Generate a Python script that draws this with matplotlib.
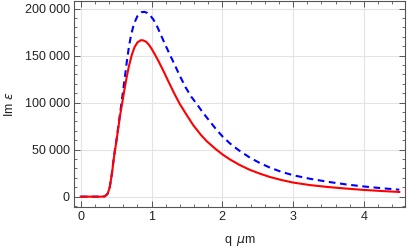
import matplotlib
matplotlib.use("Agg")
import matplotlib.pyplot as plt
from matplotlib.ticker import MultipleLocator, FuncFormatter

plt.rcParams["font.family"] = ["Liberation Sans", "DejaVu Sans"]
plt.rcParams["mathtext.fontset"] = "dejavusans"

# values
q_red = [0, 0.1, 0.2, 0.3, 0.34, 0.38, 0.41, 0.44, 0.47, 0.51, 0.555, 0.58,
         0.60, 0.62, 0.65, 0.68, 0.72, 0.76, 0.80, 0.85, 0.88, 0.92, 0.96,
         1.00, 1.05, 1.10, 1.16, 1.22, 1.32, 1.40, 1.50, 1.59, 1.70, 1.78,
         1.90, 2.01, 2.11, 2.25, 2.39, 2.53, 2.67, 2.83, 3.0, 3.24, 3.5,
         3.75, 3.99, 4.25, 4.5]
im_red = [0, 0, 0, 0, 300, 3000, 10000, 24000, 42000, 62000, 86000, 97000,
          106000, 115000, 127500, 138500, 150500, 159000, 164000, 166500,
          166300, 165000, 162000, 157500, 151000, 144000, 135000, 125500,
          110000, 98500, 86500, 76000, 65500, 59000, 51000, 44500, 39500,
          33500, 28500, 24500, 21000, 17800, 15000, 12300, 10200, 8600,
          7200, 6000, 5000]

q_blue = [0, 0.1, 0.2, 0.3, 0.34, 0.38, 0.41, 0.44, 0.47, 0.51, 0.555, 0.58,
          0.60, 0.62, 0.65, 0.68, 0.71, 0.75, 0.80, 0.86, 0.90, 0.94, 0.98,
          1.03, 1.08, 1.13, 1.18, 1.25, 1.32, 1.40, 1.48, 1.56, 1.64, 1.73,
          1.83, 1.92, 2.01, 2.11, 2.23, 2.39, 2.53, 2.67, 2.83, 3.0, 3.24,
          3.5, 3.75, 3.99, 4.25, 4.5]
im_blue = [0, 0, 0, 0, 300, 3000, 10000, 24500, 43000, 63000, 88000, 102000,
           113500, 125000, 143000, 159000, 171500, 183500, 192000, 196300,
           196600, 195500, 193000, 188000, 181000, 172500, 164000, 152500,
           141500, 128500, 116500, 106500, 98500, 89000, 79500, 71000,
           63500, 56500, 49500, 41500, 35800, 31000, 26500, 22800, 19000,
           15700, 13000, 10900, 9000, 7400]

x_ticks = [0, 1, 2, 3, 4]
y_ticks = [0, 50000, 100000, 150000, 200000]


def thin_sep(v, pos):
    return f"{int(v):,}".replace(",", "\u2005")


fig = plt.figure(figsize=(4.07, 2.52), dpi=100)
ax = fig.add_axes([0.1818, 0.1786, 0.8132, 0.8175])

ax.plot(q_blue, im_blue, color="#0000ff", lw=1.5, ls=(0, (3.2, 2.2)), zorder=3)
ax.plot(q_red, im_red, color="#ff0000", lw=1.5, zorder=4)

ax.set_xlim(-0.095, 4.58)
ax.set_ylim(-11000, 208200)
ax.set_xticks(x_ticks)
ax.set_yticks(y_ticks)
ax.xaxis.set_minor_locator(MultipleLocator(0.2))
ax.yaxis.set_minor_locator(MultipleLocator(10000))
ax.yaxis.set_major_formatter(FuncFormatter(thin_sep))

ax.grid(True, which="major", color="#e3e3e3", lw=0.8, zorder=0)
for s in ax.spines.values():
    s.set_color("#555555")
    s.set_linewidth(0.8)
ax.tick_params(which="both", direction="in", top=True, right=True,
               color="#555555", labelsize=9, labelcolor="#222222")
ax.tick_params(which="major", length=4, width=0.7, pad=3)
ax.tick_params(which="minor", length=2, width=0.6)

ax.set_xlabel("q $\\,\\mu$m", fontsize=9, color="#222222", labelpad=8)
ax.set_ylabel("Im $\\epsilon$", fontsize=9, color="#222222", labelpad=6)

fig.savefig("out.png", dpi=100)
